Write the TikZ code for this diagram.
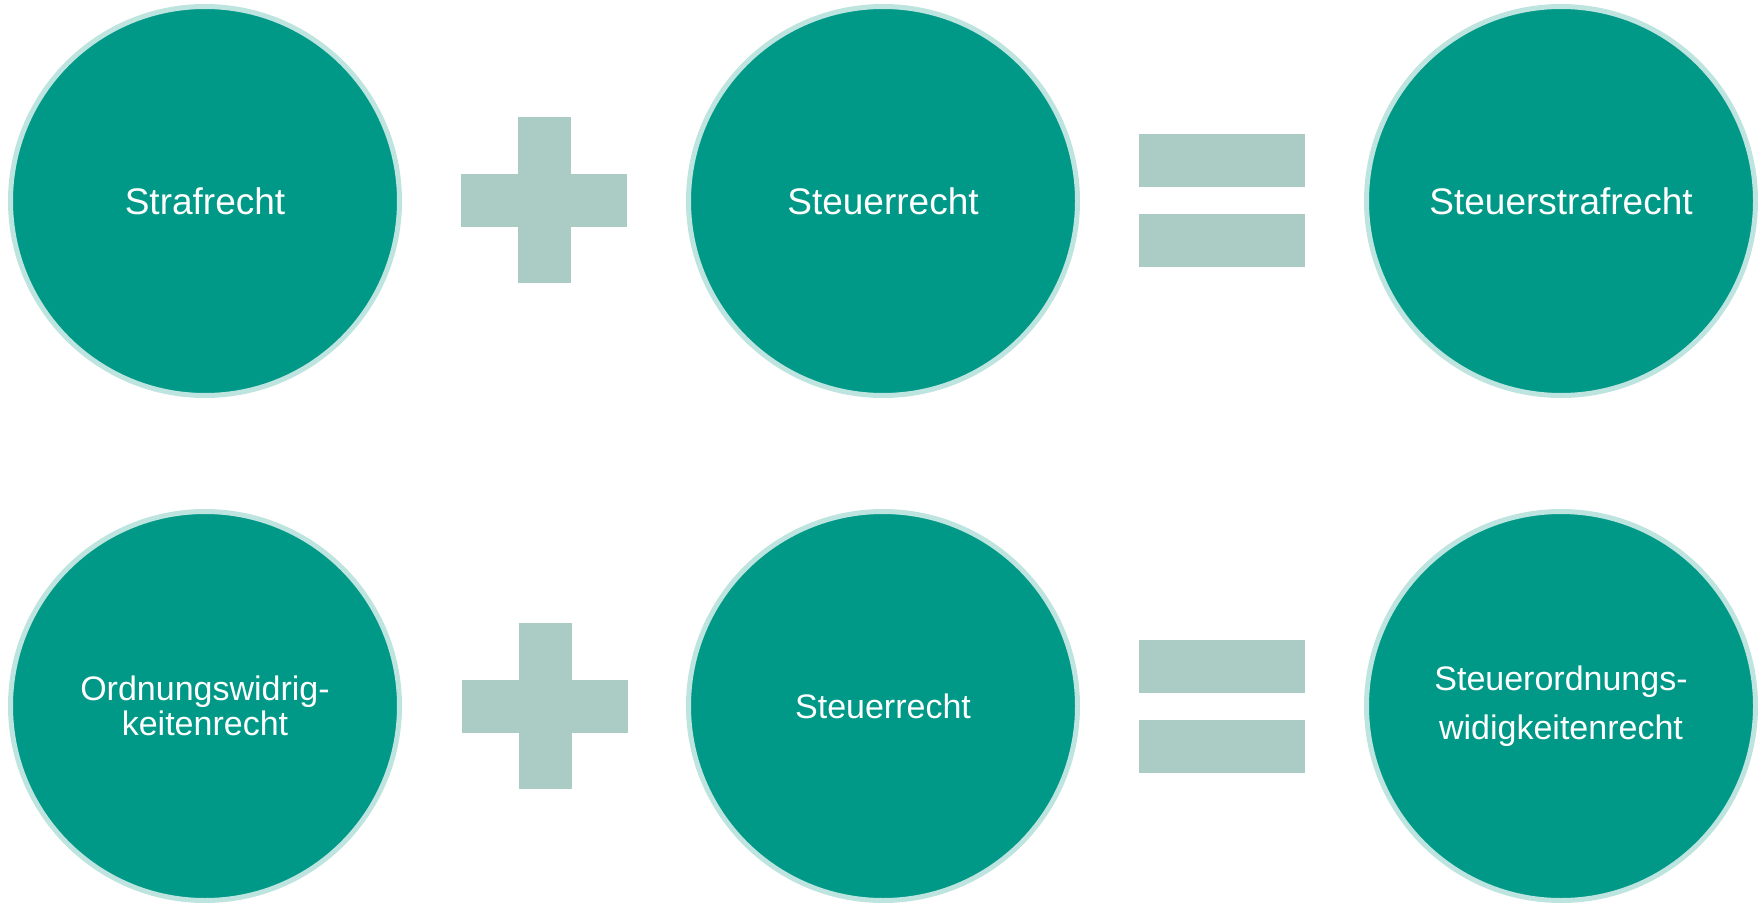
\documentclass[tikz,border=0pt]{standalone}
\usepackage{fontspec}
\setmainfont{Liberation Sans}
\definecolor{tealfill}{RGB}{0,153,136}
\definecolor{tealring}{RGB}{190,228,224}
\definecolor{opgrey}{RGB}{171,203,197}
\begin{document}
\begin{tikzpicture}[x=1pt,y=-1pt,
  lawcircle/.style={circle,inner sep=0pt,minimum size=389pt,line width=5pt,
    draw=tealring,fill=tealfill,text=white,align=center},
  bigtext/.style={font=\fontsize{37}{42}\selectfont},
  smalltext/.style={font=\fontsize{34}{35}\selectfont},
  widetext/.style={font=\fontsize{34}{49}\selectfont},
  opsym/.style={fill=opgrey}]
\useasboundingbox (0,0) rectangle (1758,902);

% top row: Strafrecht + Steuerrecht = Steuerstrafrecht
\node[lawcircle,bigtext] (a1) at (205,201) {Strafrecht};
\node[lawcircle,bigtext] (b1) at (883,201) {Steuerrecht};
\node[lawcircle,bigtext] (c1) at (1561,201) {Steuerstrafrecht};

% bottom row
\node[lawcircle,smalltext] (a2) at (205,706) {Ordnungswidrig-\\keitenrecht};
\node[lawcircle,smalltext] (b2) at (883,706) {Steuerrecht};
\node[lawcircle,widetext] (c2) at (1561,706) {Steuerordnungs-\\widigkeitenrecht};

% plus signs
\foreach \cx/\cy in {544/200, 545/706}{
  \fill[opsym] (\cx-83,\cy-26.5) rectangle (\cx+83,\cy+26.5);
  \fill[opsym] (\cx-26.5,\cy-83) rectangle (\cx+26.5,\cy+83);
}

% equals signs
\foreach \cx/\cy in {1222/200.5, 1222/706}{
  \fill[opsym] (\cx-83,\cy-66.5) rectangle (\cx+83,\cy-13.5);
  \fill[opsym] (\cx-83,\cy+13.5) rectangle (\cx+83,\cy+66.5);
}
\end{tikzpicture}
\end{document}
